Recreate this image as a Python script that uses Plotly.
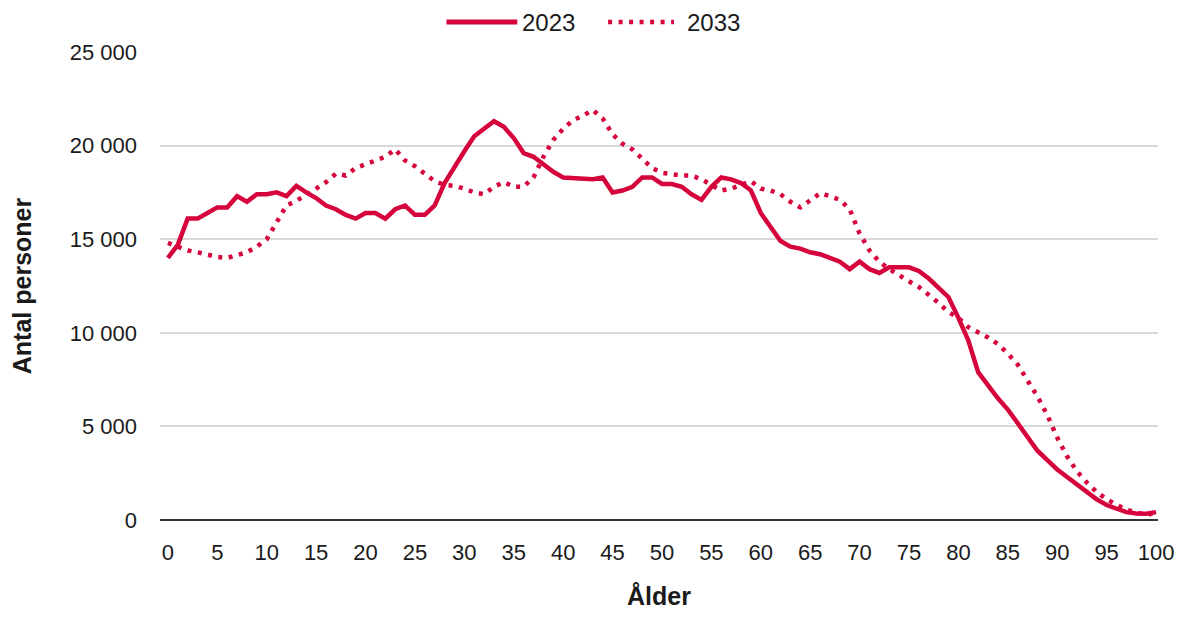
import plotly.graph_objects as go

ages = list(range(0, 101))

# Antal personer per ålder, i tusental
pop_2023_k = [
    14.0, 14.7, 16.1, 16.1, 16.4, 16.7, 16.7, 17.3, 17.0, 17.4,
    17.4, 17.5, 17.3, 17.85, 17.5, 17.2, 16.8, 16.6, 16.3, 16.1,
    16.4, 16.4, 16.1, 16.6, 16.8, 16.3, 16.3, 16.8, 18.0, 18.9,
    19.7, 20.5, 20.9, 21.3, 21.0, 20.4, 19.6, 19.4, 19.0, 18.6,
    18.3, 18.25, 18.2, 18.2, 18.3, 17.5, 17.6, 17.8, 18.3, 18.3,
    17.95, 17.95, 17.8, 17.4, 17.1, 17.8, 18.3, 18.2, 18.0, 17.6,
    16.4, 15.6, 14.9, 14.6, 14.5, 14.3, 14.2, 14.0, 13.8, 13.4,
    13.8, 13.4, 13.2, 13.5, 13.5, 13.5, 13.3, 12.9, 12.4, 11.9,
    10.8, 9.6, 7.9, 7.2, 6.5, 5.9, 5.2, 4.4, 3.7, 3.2,
    2.7, 2.3, 1.9, 1.5, 1.1, 0.8, 0.6, 0.42, 0.35, 0.33,
    0.42,
]

pop_2033_k = [
    14.8, 14.6, 14.4, 14.3, 14.15, 14.05, 14.0, 14.15, 14.3, 14.6,
    15.0, 15.9, 16.8, 17.05, 17.35, 17.7, 18.05, 18.5, 18.4, 18.8,
    19.0, 19.2, 19.4, 19.8, 19.2, 18.9, 18.5, 18.1, 17.9, 17.85,
    17.7, 17.5, 17.4, 17.8, 18.05, 17.8, 17.8, 18.3, 19.4, 20.3,
    20.9, 21.35, 21.6, 21.9, 21.45, 20.6, 20.1, 19.8, 19.3, 18.8,
    18.55, 18.45, 18.4, 18.4, 18.2, 17.9, 17.6, 17.7, 17.9, 18.1,
    17.7, 17.6, 17.4, 17.0, 16.7, 17.1, 17.45, 17.3, 17.1, 16.6,
    15.3, 14.4, 13.8, 13.4, 13.05, 12.75, 12.45, 12.05, 11.6, 11.1,
    10.8, 10.3, 10.05, 9.75, 9.4, 8.9, 8.3, 7.5, 6.6, 5.6,
    4.4, 3.4, 2.6, 2.0, 1.5, 1.1, 0.8, 0.55, 0.4, 0.3,
    0.35,
]

pop_2023 = [v * 1000 for v in pop_2023_k]
pop_2033 = [v * 1000 for v in pop_2033_k]

red = '#d6043c'
dotted = '4px,6.5px'
font_family = 'Liberation Sans, Arial, sans-serif'

fig = go.Figure()
fig.add_trace(go.Scatter(x=ages, y=pop_2023, name='2023', mode='lines',
                         line=dict(color=red, width=4.5)))
fig.add_trace(go.Scatter(x=ages, y=pop_2033, name='2033', mode='lines',
                         line=dict(color=red, width=4.5, dash=dotted)))

# legend drawn by hand so the line samples get the long look of the original
leg_y = 1.064
fig.add_shape(type='line', xref='paper', yref='paper', x0=0.287, x1=0.358,
              y0=leg_y, y1=leg_y, line=dict(color=red, width=5))
fig.add_shape(type='line', xref='paper', yref='paper', x0=0.449, x1=0.515,
              y0=leg_y, y1=leg_y, line=dict(color=red, width=4.5, dash=dotted))
fig.add_annotation(text='2023', xref='paper', yref='paper', x=0.361, y=leg_y,
                   xanchor='left', yanchor='middle', showarrow=False,
                   font=dict(size=24))
fig.add_annotation(text='2033', xref='paper', yref='paper', x=0.526, y=leg_y,
                   xanchor='left', yanchor='middle', showarrow=False,
                   font=dict(size=24))

# the page adds an 8px body margin, so the figure is sized to fit the window
fig.update_layout(
    width=1177,
    height=602,
    paper_bgcolor='white',
    plot_bgcolor='white',
    separators=', ',
    showlegend=False,
    font=dict(family=font_family, size=22, color='#1a1a1a'),
    margin=dict(t=44, r=27, b=90, l=152),
    xaxis=dict(
        range=[-0.8, 100.2],
        tickmode='linear',
        tick0=0,
        dtick=5,
        showgrid=False,
        zeroline=False,
        showline=False,
        ticks='',
        ticklabelstandoff=17,
        ticklabeloverflow='allow',
        automargin=False,
        title=dict(text='<b>Ålder</b>', font=dict(size=25), standoff=26),
    ),
    yaxis=dict(
        range=[0, 25000],
        tickmode='linear',
        tick0=0,
        dtick=5000,
        tickformat=',d',
        showgrid=True,
        gridcolor='#d9d9d9',
        gridwidth=1.5,
        zeroline=True,
        zerolinecolor='#333333',
        zerolinewidth=2,
        showline=False,
        ticks='',
        ticklabelstandoff=22,
        automargin=False,
        title=dict(text='<b>Antal personer</b>', font=dict(size=25), standoff=30),
    ),
)

fig.write_html("out.html")
